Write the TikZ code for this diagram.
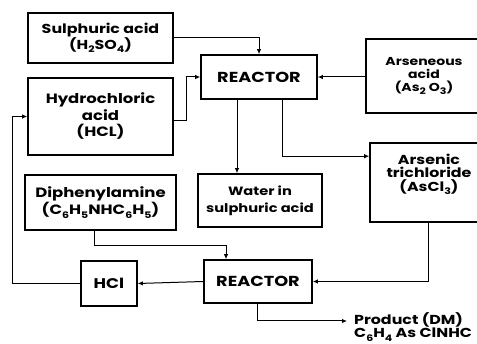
\documentclass[tikz,border=0pt]{standalone}
\usepackage{fontspec}
\setmainfont{Poppins}[FakeStretch=1.22]
\usetikzlibrary{arrows.meta}
\newcommand\dn[1]{\raisebox{-0.45ex}{\fontsize{9}{9}\selectfont #1}}
\newcommand\fs[2]{\fontsize{#1}{#2}\selectfont\bfseries}
\tikzset{
  box/.style={draw, line width=1.6pt, inner sep=0pt, align=center},
  txt/.style={align=center, inner sep=0pt},
  arr/.style={line width=1pt, -{Latex[length=5pt,width=4.5pt]}},
}
\begin{document}
\begin{tikzpicture}[x=1pt,y=-1pt]
\useasboundingbox (0,0) rectangle (477,344);
\clip (0,0) rectangle (477,344);
\node[box, minimum width=145, minimum height=50, font=\fs{13}{14}] (sulph) at (100.5,38) {Sulphuric acid\\(H\dn{2}SO\dn{4})};
\node[box, minimum width=145, minimum height=77, font=\fs{13.5}{16.5}] (hcla) at (100.5,116.5) {Hydrochloric\\acid\\(HCL)};
\node[box, minimum width=116, minimum height=44, font=\fs{14.5}{15}] (r1) at (259,77) {REACTOR};
\node[box, minimum width=124, minimum height=74] (arsen) at (428,76) {};
\node[txt, font=\fs{11.5}{13}] (arsent) at (424,76) {Arseneous\\acid\\(As\dn{2} O\dn{3})};
\node[box, minimum width=124, minimum height=79] (trich) at (432,182.5) {};
\node[txt, font=\fs{13}{13.5}] (tricht) at (429,174) {Arsenic\\trichloride\\(AsCl\dn{3})};
\node[box, minimum width=124, minimum height=53, font=\fs{12}{17}] (water) at (260,200.5) {Water in\\sulphuric acid};
\node[box, minimum width=151, minimum height=55, font=\fs{13.5}{17}] (diph) at (100.5,202.5) {Diphenylamine\\(C\dn{6}H\dn{5}NHC\dn{6}H\dn{5})};
\node[box, minimum width=56, minimum height=45, font=\fs{14}{15}] (hcl) at (109,283.5) {HCl};
\node[box, minimum width=108, minimum height=43, font=\fs{14.5}{15}] (r2) at (258,281.5) {REACTOR};
\node[anchor=west, align=left, inner sep=0pt, font=\fs{13}{11.5}] (prod) at (354,327) {Product (DM)\\C\dn{6}H\dn{4} As ClNHC};

\draw[arr] (sulph.east) -| (r1.north);
\draw[arr] ([yshift=-4.5]hcla.east) -- ++(13,0) |- (r1.west);
\draw[arr] (arsen.west |- r1.east) -- (r1.east);
\draw[arr] ([xshift=-22]r1.south) -- ([xshift=-22]r1.south |- water.north);
\draw[arr] ([xshift=23]r1.south) |- ([yshift=-14]trich.north west);
\draw[arr] ([xshift=-4]trich.south) |- (r2.east);
\draw[arr] ([xshift=-6.5]diph.south) -- ++(0,15) -| ([xshift=-32]r2.north);
\draw[arr] (r2.west) -- (hcl.east);
\draw[arr] (hcl.west) -- ++(-68,0) |- (hcla.west);
\draw[arr] ([xshift=-1]r2.south) |- ([xshift=-7,yshift=6]prod.west);
\end{tikzpicture}
\end{document}
